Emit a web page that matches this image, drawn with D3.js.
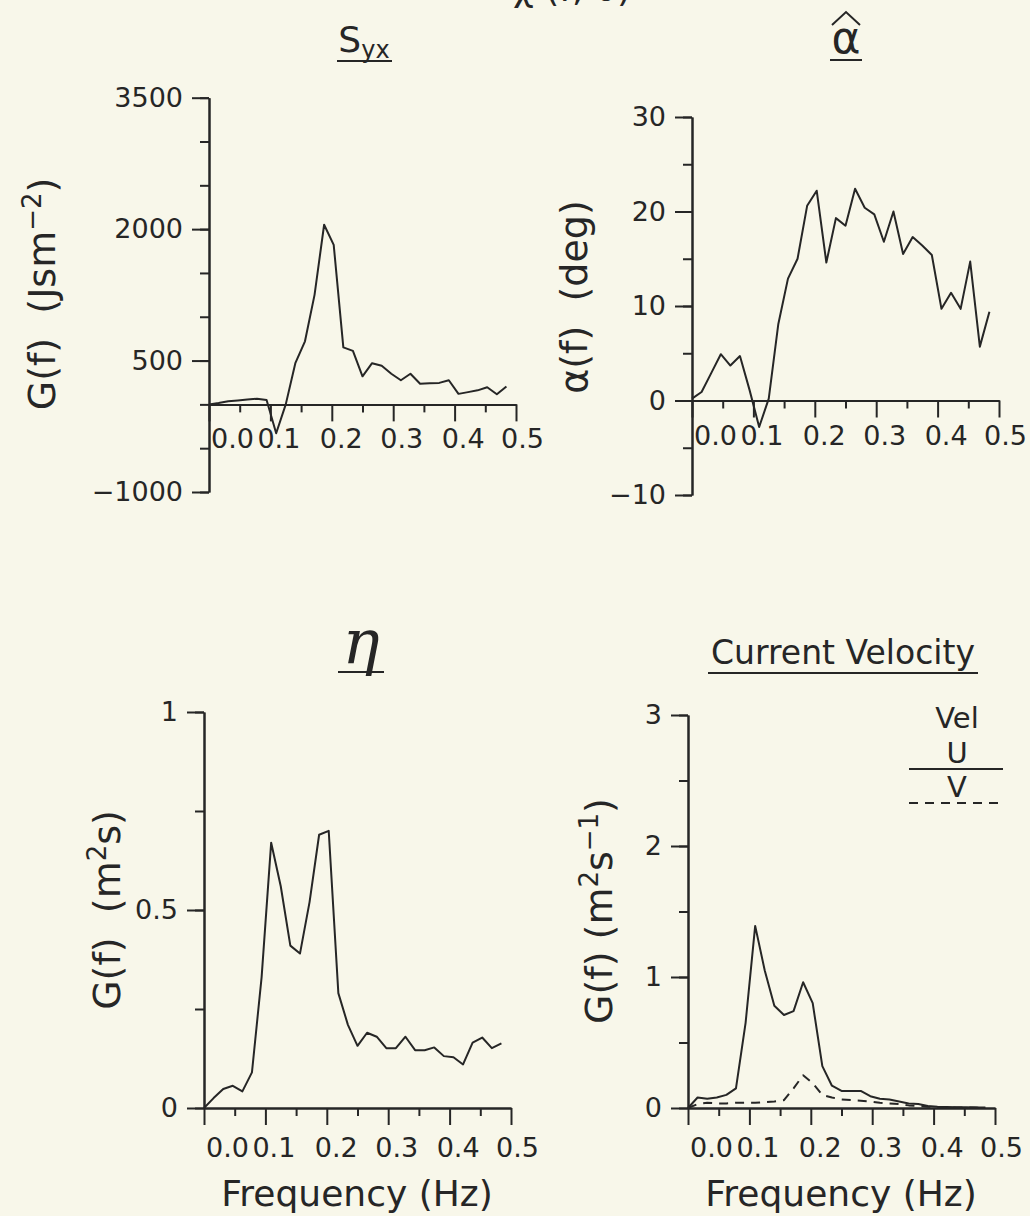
<!DOCTYPE html>
<html>
<head>
<meta charset="utf-8">
<script src="https://cdn.jsdelivr.net/npm/d3@7"></script>
<style>
body{margin:0;background:#f8f7ea;}
svg{display:block;font-family:"DejaVu Sans",sans-serif;}
</style>
</head>
<body>
<svg width="1030" height="1216"></svg>
<script>
// frequency grid (Hz)
const freq=[0,0.0156,0.0313,0.0469,0.0625,0.0781,0.0938,0.1094,0.125,0.1406,0.1563,0.1719,0.1875,0.2031,0.2188,0.2344,
            0.25,0.2656,0.2813,0.2969,0.3125,0.3281,0.3438,0.3594,0.375,0.3906,0.4063,0.4219,0.4375,0.4531,0.4688,0.4844];
// cross spectrum Syx (J s m^-2)
const syx=[0,15,35,45,55,65,50,-330,0,470,720,1250,2050,1820,650,610,320,470,440,350,275,350,235,240,245,275,120,140,160,195,115,205];
// direction alpha (deg)
const alpha=[0.2,0.9,2.9,4.9,3.7,4.7,1.1,-2.8,0.2,8.1,12.9,15.0,20.6,22.2,14.6,19.3,18.5,22.4,20.4,19.7,16.8,20.0,15.5,17.3,16.4,15.4,9.7,11.4,9.7,14.7,5.7,9.4];
// surface elevation spectrum (m^2 s)
const eta=[0,0.025,0.048,0.056,0.042,0.09,0.33,0.67,0.56,0.41,0.39,0.52,0.69,0.70,0.29,0.21,0.157,0.19,0.18,0.151,0.151,0.18,0.146,0.146,0.153,0.131,0.128,0.11,0.165,0.178,0.151,0.163];
// current velocity spectra (m^2 s^-1)
const velU=[0,0.08,0.07,0.08,0.1,0.15,0.65,1.39,1.05,0.78,0.71,0.74,0.96,0.80,0.32,0.17,0.13,0.13,0.13,0.09,0.07,0.065,0.05,0.035,0.03,0.015,0.01,0.008,0.006,0.005,0.004,0.003];
const velV=[0,0.03,0.04,0.035,0.035,0.04,0.04,0.04,0.045,0.05,0.06,0.15,0.25,0.19,0.10,0.08,0.065,0.06,0.055,0.05,0.04,0.035,0.03,0.02,0.015,0.01,0.005,0.005,0.004,0.003,0.003,0.002];

const xMajor=[0,0.1,0.2,0.3,0.4,0.5];
const xMinor=[0.05,0.15,0.25,0.35,0.45];

const ink="#262626";
const svg=d3.select("svg");
svg.append("rect").attr("width",1030).attr("height",1216).attr("fill","#f8f7ea");

function styleAxis(sel){
  sel.select(".domain").attr("stroke",ink).attr("stroke-width",2);
  sel.selectAll(".tick line").attr("stroke",ink).attr("stroke-width",2);
  sel.selectAll("text").attr("fill",ink).style("font-size","27px").style("font-family","DejaVu Sans");
}

function panel(p){
  const x=d3.scaleLinear().domain([0,0.5]).range([p.left,p.left+307]);
  const y=d3.scaleLinear().domain(p.yDomain).range([p.bottom,p.top]);
  const g=svg.append("g");

  //Y AXIS
  g.append("g").attr("transform","translate("+p.left+",0)")
   .call(d3.axisLeft(y).tickValues(p.yMinor).tickSize(9).tickSizeOuter(0).tickFormat(""))
   .call(styleAxis);
  g.append("g").attr("transform","translate("+p.left+",0)")
   .call(d3.axisLeft(y).tickValues(p.yMajor).tickSize(17).tickSizeOuter(0).tickPadding(9).tickFormat(p.fmt))
   .call(styleAxis);

  //X AXIS at zero
  const y0=y(0);
  g.append("g").attr("transform","translate(0,"+y0+")")
   .call(d3.axisBottom(x).tickValues(xMinor).tickSize(8).tickSizeOuter(0).tickFormat(""))
   .call(styleAxis);
  const xa=g.append("g").attr("transform","translate(0,"+y0+")")
   .call(d3.axisBottom(x).tickValues(xMajor).tickSize(17).tickSizeOuter(0).tickFormat(d3.format(".1f")))
   .call(styleAxis);
  const dxs=[23,8,9,8,8,6];
  xa.selectAll("text").attr("y",p.labelOff).attr("dy",0).attr("dx",(d,i)=>dxs[i]);

  //LINES
  p.series.forEach(s=>{
    g.append("path")
     .datum(freq.map((f,i)=>[f,s.values[i]]))
     .attr("fill","none").attr("stroke",ink).attr("stroke-width",2)
     .attr("stroke-linejoin","round")
     .attr("stroke-dasharray",s.dash||null)
     .attr("d",d3.line().x(d=>x(d[0])).y(d=>y(d[1])));
  });
}

panel({left:209,top:97.7,bottom:492,yDomain:[-1000,3500],yMajor:[-1000,500,2000,3500],
       yMinor:d3.range(-1000,3501,500),fmt:d3.format("d"),labelOff:44,series:[{values:syx}]});
panel({left:692,top:117,bottom:495,yDomain:[-10,30],yMajor:[-10,0,10,20,30],
       yMinor:d3.range(-10,31,5),fmt:d3.format("d"),labelOff:44,series:[{values:alpha}]});
panel({left:204,top:712,bottom:1108,yDomain:[0,1],yMajor:[0,0.5,1],
       yMinor:[0,0.25,0.5,0.75,1],fmt:d=>String(d),labelOff:49,series:[{values:eta}]});
panel({left:688,top:715,bottom:1108,yDomain:[0,3],yMajor:[0,1,2,3],
       yMinor:d3.range(0,3.01,0.5),fmt:d3.format("d"),labelOff:49,
       series:[{values:velU},{values:velV,dash:"9,7"}]});

//Y LABELS (rotated, with superscripts)
function yLabel(bx,cy,parts){
  const t=svg.append("text")
    .attr("transform","translate("+bx+","+cy+") rotate(-90)")
    .attr("text-anchor","middle").attr("fill",ink).style("font-size","38px");
  let up=false;
  parts.forEach(pt=>{
    const ts=t.append("tspan").text(pt.t);
    if(pt.sup){ts.attr("dy",-14).style("font-size","26px");up=true;}
    else if(up){ts.attr("dy",14);up=false;}
  });
}
const sp2="\u00a0\u00a0";
yLabel(55,294,[{t:"G(f)"+sp2+"(Jsm"},{t:"−2",sup:true},{t:")"}]);
yLabel(587,297,[{t:"α(f)"+sp2+"(deg)"}]);
yLabel(120,910,[{t:"G(f)"+sp2+"(m"},{t:"2",sup:true},{t:"s)"}]);
yLabel(612,911,[{t:"G(f) (m"},{t:"2",sup:true},{t:"s"},{t:"−1",sup:true},{t:")"}]);

//X LABELS
[357,841].forEach(cx=>{
  svg.append("text").attr("x",cx).attr("y",1206).attr("text-anchor","middle")
     .attr("fill",ink).style("font-size","36px").text("Frequency (Hz)");
});

//TITLES
svg.append("text").attr("x",572).attr("y",1).attr("text-anchor","middle")
   .attr("fill",ink).style("font-size","36px").text("χ (f, θ)");

const st=svg.append("text").attr("x",364).attr("y",52).attr("text-anchor","middle")
   .attr("fill",ink).style("font-size","36px");
st.append("tspan").text("S");
st.append("tspan").attr("dy",6).style("font-size","24px").text("yx");

svg.append("text").attr("x",846).attr("y",53).attr("text-anchor","middle")
   .attr("fill",ink).style("font-size","44px").text("α");
svg.append("path").attr("d","M832,25 L846,12 L860,25").attr("fill","none")
   .attr("stroke",ink).attr("stroke-width",2);

svg.append("text").attr("x",361).attr("y",663).attr("text-anchor","middle")
   .attr("fill",ink).style("font-size","62px").style("font-family","DejaVu Serif")
   .style("font-style","italic").text("η");

svg.append("text").attr("x",843).attr("y",664).attr("text-anchor","middle")
   .attr("fill",ink).style("font-size","33px").text("Current Velocity");

// underlines
[[337,392,61],[830,862,60],[338,384,672],[708,978,673]].forEach(u=>{
  svg.append("line").attr("x1",u[0]).attr("x2",u[1]).attr("y1",u[2]).attr("y2",u[2])
     .attr("stroke",ink).attr("stroke-width",2);
});

//LEGEND
const lg=svg.append("g").attr("fill",ink).style("font-size","29px").attr("text-anchor","middle");
lg.append("text").attr("x",957).attr("y",728).text("Vel");
lg.append("text").attr("x",957).attr("y",763).text("U");
lg.append("line").attr("x1",909).attr("x2",1003).attr("y1",769).attr("y2",769)
  .attr("stroke",ink).attr("stroke-width",2);
lg.append("text").attr("x",957).attr("y",797).text("V");
lg.append("line").attr("x1",909).attr("x2",1003).attr("y1",803).attr("y2",803)
  .attr("stroke",ink).attr("stroke-width",2).attr("stroke-dasharray","9,7");
</script>
</body>
</html>
